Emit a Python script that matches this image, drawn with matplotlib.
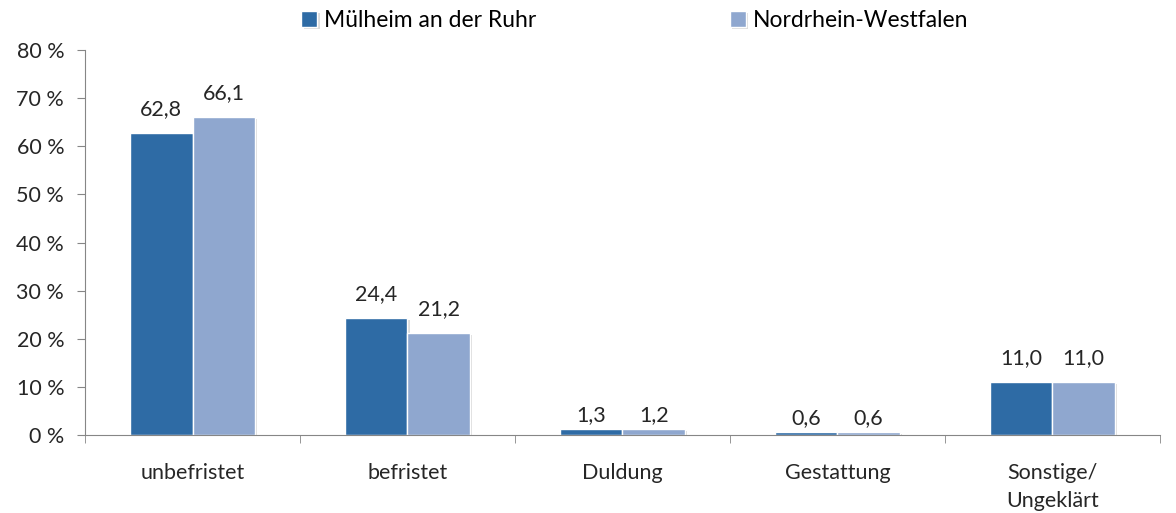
import numpy as np
import matplotlib.pyplot as plt
import matplotlib.patheffects as pe

# === Daten ===
kategorien = ['unbefristet', 'befristet', 'Duldung', 'Gestattung', 'Sonstige/\nUngeklärt']
muelheim = [62.8, 24.4, 1.3, 0.6, 11.0]
nrw = [66.1, 21.2, 1.2, 0.6, 11.0]
serien = ['Mülheim an der Ruhr', 'Nordrhein-Westfalen']

plt.rcParams['font.family'] = ['Lato', 'DejaVu Sans']

farbe1 = '#2E6BA5'
farbe2 = '#8FA7CF'
achse = '#868686'
fs = 15.5

fig = plt.figure(figsize=(11.76, 5.13), dpi=100)
ax = fig.add_axes([0.0723, 0.152, 0.914, 0.7505])

x = np.arange(len(kategorien))
b = 0.29
schatten = [pe.SimplePatchShadow(offset=(1.5, -1.5), shadow_rgbFace='#bbbbbb', alpha=0.5), pe.Normal()]
r1 = ax.bar(x - b / 2, muelheim, b, color=farbe1, edgecolor='white', linewidth=1, label=serien[0],
            path_effects=schatten)
r2 = ax.bar(x + b / 2, nrw, b, color=farbe2, edgecolor='white', linewidth=1, label=serien[1],
            path_effects=schatten)

# Beschriftung über den Balken (bei sehr kleinen Werten etwas näher dran)
for rects, vals in [(r1, muelheim), (r2, nrw)]:
    for r, v in zip(rects, vals):
        off = 10 if v > 5 else 3
        ax.annotate(f'{v:.1f}'.replace('.', ','), (r.get_x() + r.get_width() / 2, v),
                    xytext=(0, off), textcoords='offset points', ha='center', va='bottom',
                    fontsize=fs, color='#262626')

ax.set_xlim(-0.5, len(kategorien) - 0.5)
ax.set_ylim(0, 80)
ax.set_yticks(range(0, 81, 10))
ax.set_yticklabels([f'{v} %' for v in range(0, 81, 10)])
ax.set_xticks(x)
ax.set_xticklabels(kategorien, linespacing=1.5)
ax.set_xticks(np.arange(-0.5, len(kategorien)), minor=True)
ax.tick_params(axis='x', which='major', length=0, pad=20, labelsize=fs, colors='#262626')
ax.tick_params(axis='x', which='minor', length=6, color=achse, direction='out')
ax.tick_params(axis='y', length=6, color=achse, labelsize=fs, labelcolor='#262626', pad=9)

for s in ['top', 'right']:
    ax.spines[s].set_visible(False)
ax.spines['left'].set_color(achse)
ax.spines['bottom'].set_color(achse)

fig.legend(handles=[r1, r2], labels=serien, loc='upper center', bbox_to_anchor=(0.54, 1.02),
           ncol=2, frameon=False, fontsize=16.5, handlelength=0.7, handleheight=0.7,
           columnspacing=8.45, handletextpad=0.3)

fig.savefig('out.png', dpi=100)
